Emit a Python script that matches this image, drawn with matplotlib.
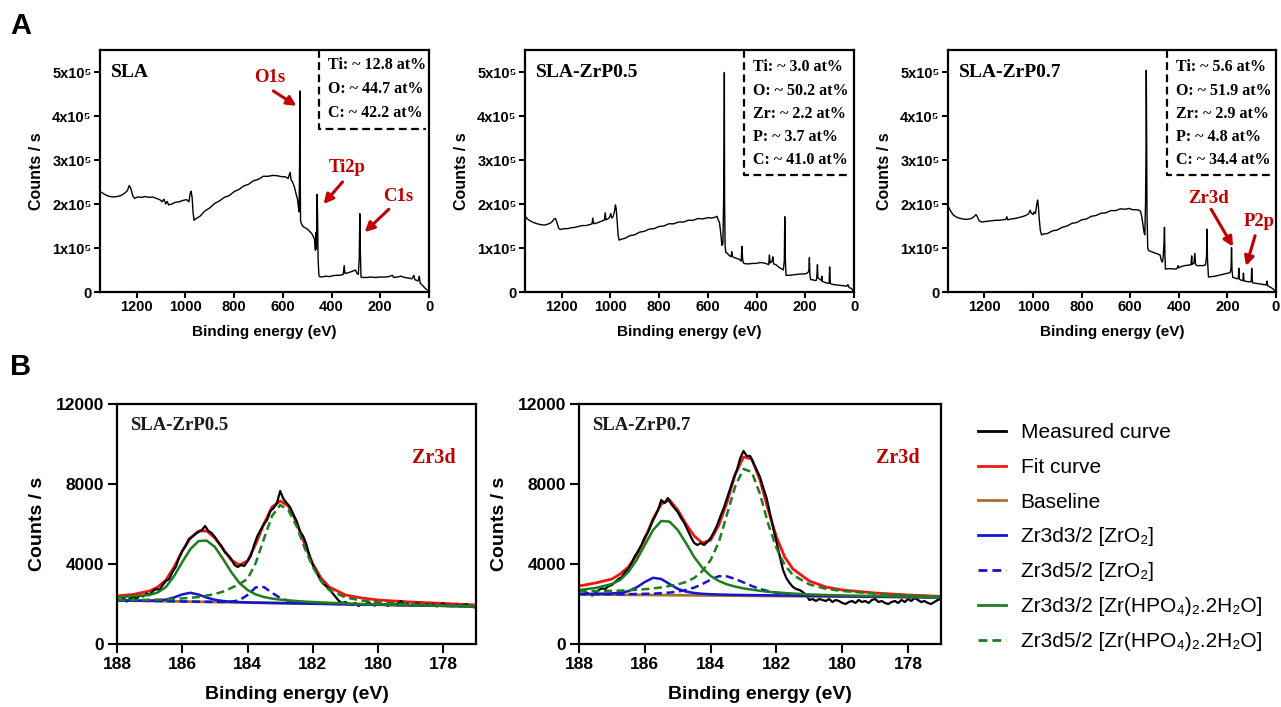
#!/usr/bin/env python3
"""
XPS survey spectra (A) and Zr3d high-resolution fits (B).
Outputs out.png
"""
import matplotlib
matplotlib.use("Agg")
import matplotlib.pyplot as plt
from matplotlib.ticker import FuncFormatter, MultipleLocator

# ---- A: survey spectra, (binding energy eV, counts in 1e5) ----
SLA_E = [1350, 1340, 1325, 1310, 1295, 1280, 1265, 1250, 1238, 1230, 1224, 1215, 1208, 1195, 1180,
         1165, 1150, 1135, 1120, 1105, 1095, 1088, 1080, 1075, 1068, 1055, 1040, 1025, 1010, 995,
         985, 980, 976, 972, 968, 964, 955, 940, 920, 900, 880, 860, 840, 820, 800, 780, 760, 740,
         720, 700, 680, 660, 640, 620, 605, 590, 578, 570, 566, 560, 552, 545, 540, 536, 533, 531,
         530, 529, 527, 522, 515, 505, 495, 485, 478, 470, 466, 464, 462, 459, 457, 455, 452, 450,
         440, 425, 410, 395, 380, 365, 352, 348, 345, 330, 315, 302, 295, 290, 286, 284, 282, 279,
         270, 255, 240, 220, 200, 180, 165, 150, 145, 130, 115, 100, 85, 70, 62, 58, 45, 40, 36,
         25, 15, 5, 0]
SLA_I = [2.28, 2.25, 2.20, 2.17, 2.16, 2.17, 2.19, 2.24, 2.30, 2.42, 2.36, 2.18, 2.13, 2.16, 2.15,
         2.17, 2.15, 2.16, 2.13, 2.10, 2.05, 2.11, 2.00, 2.06, 1.98, 2.00, 2.04, 2.05, 2.08, 2.10,
         2.05, 2.24, 2.29, 2.15, 1.80, 1.63, 1.67, 1.72, 1.84, 1.91, 2.01, 2.07, 2.15, 2.19, 2.28,
         2.33, 2.41, 2.45, 2.53, 2.56, 2.63, 2.63, 2.65, 2.64, 2.62, 2.62, 2.58, 2.72, 2.55, 2.50,
         2.38, 2.22, 2.12, 1.95, 1.82, 2.96, 4.57, 3.10, 1.62, 1.53, 1.48, 1.45, 1.41, 1.35, 1.30,
         1.20, 0.95, 1.35, 0.98, 2.22, 1.60, 0.75, 0.40, 0.35, 0.34, 0.36, 0.35, 0.37, 0.38, 0.38,
         0.40, 0.60, 0.42, 0.44, 0.47, 0.50, 0.42, 0.40, 0.80, 1.78, 1.00, 0.34, 0.33, 0.33, 0.34,
         0.33, 0.34, 0.34, 0.35, 0.38, 0.33, 0.34, 0.36, 0.33, 0.32, 0.30, 0.38, 0.28, 0.25, 0.36,
         0.20, 0.14, 0.08, 0.04, 0.00]

ZRP05_E = [1350, 1340, 1330, 1315, 1300, 1285, 1270, 1258, 1248, 1238, 1230, 1225, 1220, 1212, 1205,
           1190, 1175, 1160, 1145, 1130, 1115, 1100, 1085, 1075, 1072, 1068, 1055, 1040, 1030, 1024,
           1021, 1018, 1010, 1003, 998, 994, 988, 982, 979, 976, 973, 968, 964, 955, 940, 920, 900,
           880, 860, 840, 820, 800, 780, 760, 740, 720, 700, 680, 660, 640, 620, 600, 585, 570, 562,
           558, 552, 546, 542, 538, 535, 533, 532, 531, 529, 526, 520, 512, 505, 501, 498, 490, 480,
           470, 463, 460, 457, 454, 445, 430, 415, 400, 385, 370, 358, 350, 347, 344, 336, 333, 330,
           320, 312, 305, 295, 290, 286, 284, 282, 279, 265, 250, 235, 220, 205, 195, 188, 185, 183,
           181, 178, 170, 160, 154, 152, 150, 148, 140, 134, 132, 130, 120, 110, 102, 100, 97, 85,
           70, 55, 40, 30, 25, 20, 10, 0]
ZRP05_I = [1.72, 1.66, 1.62, 1.58, 1.55, 1.53, 1.52, 1.54, 1.56, 1.60, 1.66, 1.67, 1.60, 1.45, 1.42,
           1.44, 1.44, 1.46, 1.47, 1.49, 1.51, 1.51, 1.53, 1.55, 1.68, 1.55, 1.57, 1.60, 1.62, 1.64,
           1.80, 1.64, 1.66, 1.70, 1.78, 1.68, 1.72, 1.85, 1.98, 1.90, 1.70, 1.30, 1.18, 1.20, 1.22,
           1.28, 1.30, 1.36, 1.38, 1.43, 1.44, 1.49, 1.50, 1.55, 1.55, 1.59, 1.59, 1.63, 1.63, 1.67,
           1.66, 1.69, 1.68, 1.70, 1.72, 1.65, 1.58, 1.30, 1.06, 1.10, 2.10, 3.40, 4.99, 2.10, 1.05,
           0.90, 0.88, 0.83, 0.80, 0.92, 0.80, 0.78, 0.76, 0.74, 0.70, 1.04, 0.75, 0.66, 0.64, 0.64,
           0.65, 0.65, 0.67, 0.66, 0.64, 0.62, 0.84, 0.66, 0.70, 0.80, 0.64, 0.62, 0.58, 0.55, 0.52,
           0.50, 0.70, 1.71, 0.80, 0.38, 0.38, 0.39, 0.40, 0.41, 0.41, 0.42, 0.45, 0.50, 0.78, 0.40,
           0.28, 0.28, 0.26, 0.27, 0.40, 0.62, 0.32, 0.29, 0.26, 0.36, 0.24, 0.22, 0.20, 0.20, 0.57,
           0.19, 0.17, 0.16, 0.15, 0.14, 0.13, 0.17, 0.10, 0.08, 0.00]

ZRP07_E = [1348, 1340, 1330, 1318, 1305, 1290, 1275, 1262, 1250, 1240, 1235, 1230, 1222, 1212, 1200,
           1185, 1170, 1155, 1140, 1125, 1112, 1108, 1104, 1090, 1075, 1060, 1045, 1030, 1018, 1012,
           1008, 1000, 996, 990, 984, 981, 978, 975, 970, 965, 955, 940, 920, 900, 880, 860, 840,
           820, 800, 780, 760, 740, 720, 700, 680, 660, 640, 620, 605, 590, 575, 565, 558, 552, 548,
           543, 540, 537, 535, 534, 533, 531, 528, 524, 515, 505, 495, 485, 477, 472, 468, 465, 461,
           459, 457, 455, 445, 430, 415, 408, 403, 400, 390, 375, 360, 350, 347, 345, 338, 334, 331,
           325, 310, 298, 290, 286, 284, 282, 278, 265, 250, 235, 220, 205, 195, 188, 185, 183, 181,
           178, 170, 160, 155, 153, 151, 140, 136, 134, 132, 120, 110, 102, 100, 97, 85, 70, 60, 50,
           40, 37, 34, 20, 10, 0]
ZRP07_I = [1.93, 1.85, 1.76, 1.71, 1.68, 1.66, 1.65, 1.66, 1.68, 1.73, 1.76, 1.72, 1.62, 1.59, 1.60,
           1.61, 1.62, 1.63, 1.63, 1.64, 1.65, 1.71, 1.64, 1.66, 1.67, 1.69, 1.71, 1.74, 1.78, 1.86,
           1.80, 1.76, 1.82, 1.78, 2.02, 2.09, 1.95, 1.70, 1.40, 1.30, 1.32, 1.33, 1.39, 1.41, 1.47,
           1.50, 1.56, 1.58, 1.64, 1.66, 1.72, 1.74, 1.79, 1.80, 1.85, 1.85, 1.89, 1.88, 1.90, 1.87,
           1.87, 1.86, 1.84, 1.70, 1.55, 1.35, 1.30, 2.00, 3.20, 5.04, 4.20, 1.80, 1.00, 0.94, 0.92,
           0.90, 0.88, 0.86, 0.84, 0.72, 0.68, 0.75, 1.10, 1.47, 0.80, 0.52, 0.53, 0.53, 0.52, 0.53,
           0.60, 0.55, 0.58, 0.60, 0.61, 0.62, 0.82, 0.63, 0.65, 0.88, 0.62, 0.60, 0.60, 0.60, 0.62,
           0.80, 1.43, 0.75, 0.34, 0.35, 0.36, 0.38, 0.40, 0.42, 0.43, 0.45, 0.55, 1.01, 0.50, 0.33,
           0.32, 0.30, 0.31, 0.54, 0.29, 0.26, 0.27, 0.43, 0.25, 0.24, 0.23, 0.24, 0.54, 0.21, 0.20,
           0.19, 0.18, 0.17, 0.16, 0.25, 0.14, 0.10, 0.06, 0.00]

SURVEY_NAMES = ["SLA", "SLA-ZrP0.5", "SLA-ZrP0.7"]
COMPOSITION = [
    ["Ti: ~ 12.8 at%", "O: ~ 44.7 at%", "C: ~ 42.2 at%"],
    ["Ti: ~ 3.0 at%", "O: ~ 50.2 at%", "Zr: ~ 2.2 at%", "P: ~ 3.7 at%", "C: ~ 41.0 at%"],
    ["Ti: ~ 5.6 at%", "O: ~ 51.9 at%", "Zr: ~ 2.9 at%", "P: ~ 4.8 at%", "C: ~ 34.4 at%"],
]

# ---- B: Zr3d high resolution ----
ZR_E = [188.0, 187.9, 187.8, 187.7, 187.6, 187.5, 187.4, 187.3, 187.2, 187.1,
        187.0, 186.9, 186.8, 186.7, 186.6, 186.5, 186.4, 186.3, 186.2, 186.1,
        186.0, 185.9, 185.8, 185.7, 185.6, 185.5, 185.4, 185.3, 185.2, 185.1,
        185.0, 184.9, 184.8, 184.7, 184.6, 184.5, 184.4, 184.3, 184.2, 184.1,
        184.0, 183.9, 183.8, 183.7, 183.6, 183.5, 183.4, 183.3, 183.2, 183.1,
        183.0, 182.9, 182.8, 182.7, 182.6, 182.5, 182.4, 182.3, 182.2, 182.1,
        182.0, 181.9, 181.8, 181.7, 181.6, 181.5, 181.4, 181.3, 181.2, 181.1,
        181.0, 180.9, 180.8, 180.7, 180.6, 180.5, 180.4, 180.3, 180.2, 180.1,
        180.0, 179.9, 179.8, 179.7, 179.6, 179.5, 179.4, 179.3, 179.2, 179.1,
        179.0, 178.9, 178.8, 178.7, 178.6, 178.5, 178.4, 178.3, 178.2, 178.1,
        178.0, 177.9, 177.8, 177.7, 177.6, 177.5, 177.4, 177.3, 177.2, 177.1, 177.0]

MEAS_05 = [2250, 2180, 2300, 2120, 2280, 2350, 2260, 2420, 2380, 2520,
           2460, 2650, 2750, 2700, 2950, 3150, 3250, 3600, 3850, 4300,
           4650, 4900, 5250, 5350, 5500, 5600, 5700, 5900, 5650, 5550,
           5350, 5100, 4900, 4600, 4450, 4250, 3950, 3850, 3950, 3900,
           4150, 4400, 4950, 5400, 5700, 6000, 6200, 6650, 6800, 7050,
           7650, 7250, 7050, 6850, 6500, 6150, 5650, 5400, 5000, 4400,
           3950, 3650, 3300, 3050, 2900, 2750, 2550, 2350, 2150, 2050,
           2100, 2000, 1950, 2050, 1900, 2000, 1950, 2100, 1980, 1920,
           2050, 1950, 2000, 1900, 2050, 1970, 2000, 2150, 1950, 2000,
           1920, 1980, 2050, 1950, 1900, 2000, 1930, 1980, 1880, 1950,
           2020, 1900, 1950, 1880, 1970, 1900, 1920, 2000, 1880, 1850, 1820]

MEAS_07 = [2700, 2650, 2600, 2500, 2420, 2550, 2700, 2780, 2750, 2900,
           2950, 3100, 3250, 3350, 3600, 3750, 4050, 4400, 4650, 4950,
           5350, 5600, 6000, 6350, 6700, 7200, 7050, 7300, 7000, 6800,
           6600, 6300, 6050, 5700, 5350, 5050, 4950, 5050, 4950, 5100,
           5300, 5600, 5950, 6400, 6800, 7300, 7800, 8300, 8700, 9300,
           9650, 9400, 9400, 9050, 8700, 8350, 7800, 7300, 6550, 5800,
           5100, 4400, 3700, 3300, 3050, 2850, 2750, 2700, 2600, 2450,
           2200, 2250, 2150, 2250, 2200, 2150, 2250, 2100, 2200, 2150,
           2050, 2000, 2100, 2150, 2050, 2200, 2100, 2150, 2050, 2200,
           2250, 2100, 2150, 2050, 2000, 2100, 2150, 2050, 2200, 2100,
           2250, 2150, 2300, 2200, 2100, 2150, 2050, 2000, 2100, 2200, 2250]

FIT_E = [188, 187.5, 187, 186.75, 186.5, 186.25, 186, 185.75, 185.5, 185.25, 185, 184.75,
         184.5, 184.25, 184, 183.75, 183.5, 183.25, 183, 182.75, 182.5, 182.25, 182, 181.75,
         181.5, 181, 180.5, 180, 179, 178, 177]

FIT_05 = [2400, 2480, 2650, 2850, 3200, 3850, 4650, 5300, 5650, 5650, 5300, 4750,
          4200, 3950, 4150, 5000, 6000, 6850, 7150, 6900, 6100, 5000, 4000, 3300,
          2850, 2450, 2300, 2200, 2100, 2030, 1950]
ZRO2_32_05 = [2180, 2170, 2170, 2180, 2220, 2330, 2480, 2560, 2470, 2320, 2210, 2150,
              2115, 2095, 2080, 2068, 2060, 2053, 2047, 2040, 2033, 2026, 2019, 2012,
              2006, 1992, 1978, 1965, 1937, 1909, 1882]
ZRO2_52_05 = [2182, 2168, 2155, 2148, 2141, 2134, 2127, 2120, 2115, 2110, 2105, 2105,
              2115, 2190, 2450, 2830, 2850, 2560, 2300, 2160, 2090, 2050, 2030, 2015,
              2007, 1992, 1977, 1964, 1937, 1909, 1882]
ZRP_32_05 = [2330, 2400, 2450, 2580, 2850, 3400, 4100, 4750, 5150, 5170, 4850, 4250,
             3600, 3050, 2700, 2480, 2350, 2270, 2220, 2180, 2150, 2120, 2100, 2080,
             2060, 2030, 2000, 1975, 1940, 1910, 1882]
ZRP_52_05 = [2200, 2200, 2210, 2220, 2230, 2250, 2280, 2310, 2350, 2420, 2500, 2620,
             2800, 3000, 3250, 4050, 5250, 6400, 6950, 6700, 5900, 4800, 3850, 3150,
             2700, 2330, 2170, 2080, 1990, 1930, 1890]

FIT_07 = [2900, 3050, 3250, 3500, 3850, 4450, 5250, 6250, 7000, 7200, 6700, 6000,
          5400, 5050, 5200, 5950, 7100, 8500, 9350, 9250, 8200, 6700, 5350, 4350,
          3750, 3150, 2850, 2700, 2550, 2450, 2380]
ZRO2_32_07 = [2500, 2510, 2530, 2560, 2640, 2830, 3100, 3310, 3250, 3000, 2760, 2620,
              2550, 2510, 2490, 2475, 2465, 2455, 2450, 2445, 2440, 2435, 2430, 2425,
              2420, 2410, 2400, 2390, 2370, 2350, 2330]
ZRO2_52_07 = [2490, 2490, 2490, 2490, 2495, 2500, 2510, 2520, 2540, 2570, 2620, 2700,
              2820, 3000, 3220, 3390, 3380, 3250, 3080, 2900, 2750, 2640, 2560, 2510,
              2470, 2430, 2410, 2395, 2370, 2350, 2330]
ZRP_32_07 = [2700, 2800, 3000, 3200, 3600, 4200, 4950, 5700, 6150, 6120, 5700, 5050,
             4350, 3800, 3400, 3150, 2980, 2870, 2780, 2720, 2660, 2610, 2580, 2550,
             2520, 2480, 2450, 2430, 2400, 2370, 2340]
ZRP_52_07 = [2630, 2640, 2660, 2670, 2690, 2710, 2740, 2780, 2830, 2900, 2980, 3100,
             3300, 3650, 4200, 5100, 6500, 7900, 8750, 8600, 7500, 6000, 4800, 3950,
             3450, 2980, 2760, 2650, 2520, 2430, 2370]

BASE_E = [188, 177]
BASE_05 = [2180, 1880]
BASE_07 = [2480, 2330]

LEGEND_LABELS = ["Measured curve", "Fit curve", "Baseline",
                 "Zr3d3/2 [ZrO\u2082]", "Zr3d5/2 [ZrO\u2082]",
                 "Zr3d3/2 [Zr(HPO\u2084)\u2082.2H\u2082O]",
                 "Zr3d5/2 [Zr(HPO\u2084)\u2082.2H\u2082O]"]

SANS = ["Liberation Sans", "DejaVu Sans"]
SERIF = "Liberation Serif"
DARKRED = "#C00000"
C_FIT = "#F21414"
C_BASE = "#A8702A"
C_BLUE = "#1414D2"
C_GREEN = "#1E7D1E"
DASH = (0, (3.2, 1.8))


def sci_fmt(v, pos):
    n = int(round(v / 1e5))
    if n == 0:
        return "0"
    return f"{n}x10\u2075"


def style_axes(ax, tick_fs, tick_len, pad):
    for s in ax.spines.values():
        s.set_linewidth(1.6)
    ax.tick_params(direction="out", length=tick_len, width=1.5, pad=pad)
    for lab in ax.get_xticklabels() + ax.get_yticklabels():
        lab.set_fontfamily(SANS)
        lab.set_fontweight("bold")
        lab.set_fontsize(tick_fs)


def survey(ax, E, I, idx):
    ax.plot(E, [v * 1e5 for v in I], color="k", lw=1.0)
    ax.set_xlim(1350, 0)
    ax.set_ylim(0, 5.5e5)
    ax.xaxis.set_major_locator(MultipleLocator(200))
    ax.yaxis.set_major_locator(MultipleLocator(1e5))
    ax.yaxis.set_major_formatter(FuncFormatter(sci_fmt))
    style_axes(ax, 10.5, 4, 2)
    ax.set_xlabel("Binding energy (eV)", fontfamily=SANS, fontweight="bold", fontsize=11, labelpad=7.5)
    ax.set_ylabel("Counts / s", fontfamily=SANS, fontweight="bold", fontsize=11.5, labelpad=6)
    ax.text(0.033, 0.905, SURVEY_NAMES[idx], transform=ax.transAxes, fontfamily=SERIF,
            fontweight="bold", fontsize=14, va="center", ha="left")
    rows = COMPOSITION[idx]
    bottom = 0.674 if len(rows) == 3 else 0.482
    ax.plot([0.667, 0.667, 0.99], [1.0, bottom, bottom], transform=ax.transAxes, color="k",
            lw=1.6, ls=(0, (3.5, 2)), clip_on=False)
    ys = [0.938, 0.839, 0.74] if len(rows) == 3 else [0.930, 0.831, 0.735, 0.642, 0.547]
    for t, y in zip(rows, ys):
        ax.text(0.694, y, t, transform=ax.transAxes, fontfamily=SERIF, fontweight="bold",
                fontsize=11.5, va="center", ha="left")


def label_arrow(ax, text, txy, tail, tip):
    ax.text(txy[0], txy[1], text, color=DARKRED, fontfamily=SERIF, fontweight="bold",
            fontsize=13.5, ha="center", va="center")
    ax.annotate("", xy=tip, xytext=tail,
                arrowprops=dict(arrowstyle="-|>", color=DARKRED, lw=2.2, mutation_scale=14,
                                shrinkA=0, shrinkB=0))


def zr_panel(ax, name, meas, fit, base, o32, o52, p32, p52):
    ax.plot(FIT_E, fit, color=C_FIT, lw=2.0)
    ax.plot(ZR_E, meas, color="k", lw=1.6)
    ax.plot(BASE_E, base, color=C_BASE, lw=2.0)
    ax.plot(FIT_E, o32, color=C_BLUE, lw=1.8)
    ax.plot(FIT_E, o52, color=C_BLUE, lw=1.8, ls=DASH)
    ax.plot(FIT_E, p32, color=C_GREEN, lw=1.8)
    ax.plot(FIT_E, p52, color=C_GREEN, lw=1.8, ls=DASH)
    ax.set_xlim(188, 177)
    ax.set_ylim(0, 12000)
    ax.xaxis.set_major_locator(MultipleLocator(2))
    ax.yaxis.set_major_locator(MultipleLocator(4000))
    style_axes(ax, 12.5, 6.5, 3)
    ax.set_xlabel("Binding energy (eV)", fontfamily=SANS, fontweight="bold", fontsize=14, labelpad=10)
    ax.set_ylabel("Counts / s", fontfamily=SANS, fontweight="bold", fontsize=14, labelpad=7)
    ax.text(0.037, 0.91, name, transform=ax.transAxes, fontfamily=SERIF, fontweight="bold",
            fontsize=13.5, color="#1a1a1a", va="center", ha="left")
    ax.text(0.882, 0.773, "Zr3d", transform=ax.transAxes, fontfamily=SERIF, fontweight="bold",
            fontsize=14.5, color=DARKRED, va="center", ha="center")


def main():
    fig = plt.figure(figsize=(12.81, 7.07), dpi=100)
    W, H = 1281.0, 707.0

    def box(l, r, t, b):
        return [l / W, (H - b) / H, (r - l) / W, (b - t) / H]

    a1 = fig.add_axes(box(100, 429, 50, 292))
    a2 = fig.add_axes(box(525, 854, 50, 292))
    a3 = fig.add_axes(box(948, 1276, 50, 292))
    survey(a1, SLA_E, SLA_I, 0)
    survey(a2, ZRP05_E, ZRP05_I, 1)
    survey(a3, ZRP07_E, ZRP07_I, 2)

    label_arrow(a1, "O1s", (652, 4.87e5), (639, 4.57e5), (544, 4.23e5))
    label_arrow(a1, "Ti2p", (334, 2.84e5), (355, 2.50e5), (433, 2.0e5))
    label_arrow(a1, "C1s", (128, 2.18e5), (165, 1.88e5), (264, 1.36e5))
    label_arrow(a3, "Zr3d", (279, 2.13e5), (267, 1.88e5), (177, 1.03e5))
    label_arrow(a3, "P2p", (70, 1.60e5), (86, 1.28e5), (123, 0.59e5))

    b1 = fig.add_axes(box(117, 476, 404, 644))
    b2 = fig.add_axes(box(579, 941, 404, 644))
    zr_panel(b1, "SLA-ZrP0.5", MEAS_05, FIT_05, BASE_05, ZRO2_32_05, ZRO2_52_05, ZRP_32_05, ZRP_52_05)
    zr_panel(b2, "SLA-ZrP0.7", MEAS_07, FIT_07, BASE_07, ZRO2_32_07, ZRO2_52_07, ZRP_32_07, ZRP_52_07)

    fig.text(10 / W, 1 - 26 / H, "A", fontfamily=SANS, fontweight="bold", fontsize=21, va="center")
    fig.text(10 / W, 1 - 367 / H, "B", fontfamily=SANS, fontweight="bold", fontsize=21, va="center")

    handles = b2.get_lines()
    order = [1, 0, 2, 3, 4, 5, 6]
    leg = fig.legend([handles[i] for i in order], LEGEND_LABELS, loc="upper left",
                     bbox_to_anchor=(978 / W, 1 - 423 / H), frameon=False,
                     prop={"family": SANS, "size": 15}, handlelength=1.35, handletextpad=0.7,
                     labelspacing=0.76, borderpad=0, borderaxespad=0)
    for ln in leg.get_lines():
        ln.set_linewidth(2.0)

    fig.savefig("out.png", dpi=100)


if __name__ == "__main__":
    main()
